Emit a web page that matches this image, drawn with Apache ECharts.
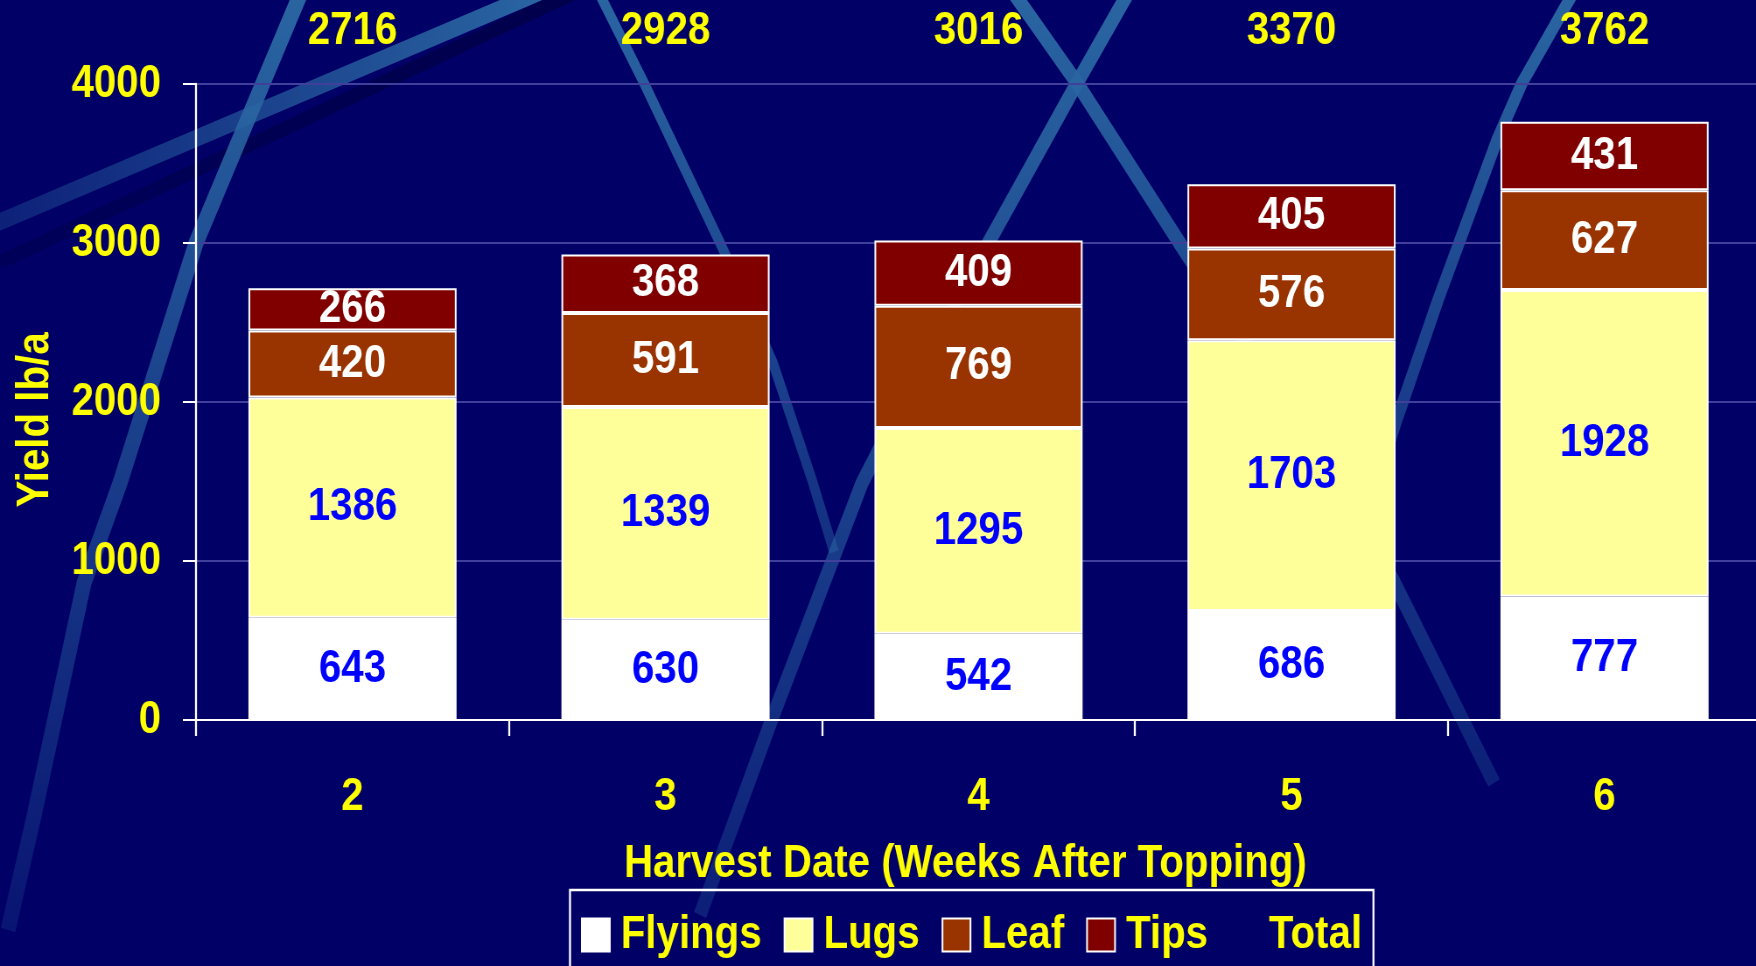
<!DOCTYPE html>
<html>
<head>
<meta charset="utf-8">
<script src="https://cdn.jsdelivr.net/npm/echarts@6/dist/echarts.min.js"></script>
<style>
html,body{margin:0;padding:0;background:#000066;overflow:hidden;width:1756px;height:966px;}
#chart{width:2007px;height:966px;transform:scaleX(0.874938);transform-origin:0 0;}
</style>
</head>
<body>
<div id="chart"></div>
<script>
const categories = ['2', '3', '4', '5', '6'];
const flyings = [643, 630, 542, 686, 777];
const lugs = [1386, 1339, 1295, 1703, 1928];
const leaf = [420, 591, 769, 576, 627];
const tips = [266, 368, 409, 405, 431];
const totals = [2716, 2928, 3016, 3370, 3762];
const yTicks = { min: 0, max: 4000, interval: 1000 };

// the reference uses a condensed bold face; the canvas is drawn wider and squeezed horizontally
const S = 1756 / 2007;
const FONT = "'Liberation Sans', Arial, sans-serif";
const YEL = '#ffff00';
const STREAK = '#2a66a2';

const chart = echarts.init(document.getElementById('chart'));

function streak(points, width, c1, c2, horizontal) {
  return {
    type: 'polyline', z: -10, silent: true,
    shape: { points: points.map(p => [p[0] / S, p[1]]) },
    style: {
      fill: null, lineWidth: width, lineCap: 'butt', lineJoin: 'round',
      stroke: new echarts.graphic.LinearGradient(0, 0, horizontal ? 1 : 0, horizontal ? 0 : 1,
        [{ offset: 0, color: c1 }, { offset: 1, color: c2 }])
    }
  };
}

function seg(name, data, color, labelColor) {
  return {
    name: name, type: 'bar', stack: 'yield', data: data, barWidth: '66.5%',
    itemStyle: { color: color, borderColor: '#ffffff', borderWidth: 2 },
    label: {
      show: true, position: 'inside', color: labelColor,
      fontFamily: FONT, fontWeight: 'bold', fontSize: 46
    },
    emphasis: { disabled: true }
  };
}

const option = {
  backgroundColor: '#000066',
  animation: false,
  graphic: [
    streak([[-10, 226], [540, -8]], 17, 'rgba(42,102,162,0.3)', STREAK, true),
    streak([[0, 262], [580, -10]], 14, 'rgba(0,0,72,0.4)', 'rgba(0,0,72,0.9)', true),
    streak([[300, -5], [263, 83], [196, 243], [120, 483], [84, 583], [34, 816], [8, 930]], 17, STREAK, 'rgba(42,102,162,0.2)', false),
    streak([[600, -5], [644, 83], [722, 247], [773, 363], [812, 480], [834, 552]], 11, STREAK, 'rgba(42,102,162,0.45)', false),
    streak([[1015, -5], [1077, 83], [1186, 253], [1300, 425], [1393, 580], [1494, 783]], 15, STREAK, 'rgba(42,102,162,0.3)', false),
    streak([[1127, -5], [1077, 83], [990, 240], [920, 370], [862, 483], [773, 716], [700, 915]], 15, STREAK, 'rgba(42,102,162,0.3)', false),
    streak([[1572, -5], [1522, 83], [1497, 140], [1438, 300], [1395, 425], [1375, 490]], 13, STREAK, 'rgba(42,102,162,0.5)', false),
    {
      type: 'text', silent: true, z: 10,
      x: 35 / S, y: 420, rotation: Math.PI / 2, scaleX: S, scaleY: 1 / S,
      style: {
        text: 'Yield lb/a', align: 'center', verticalAlign: 'middle', fill: YEL,
        fontFamily: FONT, fontWeight: 'bold', fontSize: 46
      }
    }
  ],
  grid: { left: 196 / S, top: 84, width: 1565 / S, height: 636, containLabel: false, outerBoundsMode: 'none' },
  legend: {
    left: 570 / S, top: 890,
    padding: [20, 13, 30, 12.5],
    itemGap: 22 / S, itemWidth: 28 / S, itemHeight: 33,
    borderColor: '#ffffff', borderWidth: 2.3,
    icon: 'rect',
    textStyle: { color: YEL, fontFamily: FONT, fontWeight: 'bold', fontSize: 46, lineHeight: 50, padding: [0, 0, 0, 7.5] },
    data: ['Flyings', 'Lugs', 'Leaf', 'Tips', { name: 'Total', itemStyle: { color: 'transparent', borderWidth: 0 } }],
    selectedMode: false
  },
  xAxis: {
    type: 'category', data: categories,
    name: 'Harvest Date (Weeks After Topping)', nameLocation: 'middle', nameGap: 121,
    nameTextStyle: { color: YEL, fontFamily: FONT, fontWeight: 'bold', fontSize: 46, padding: [0, 30, 0, 0] },
    axisLine: { lineStyle: { color: '#ffffff', width: 2 } },
    axisTick: { show: true, length: 16, lineStyle: { color: '#ffffff', width: 2.3 } },
    axisLabel: { color: YEL, fontFamily: FONT, fontWeight: 'bold', fontSize: 46, margin: 54 },
    splitLine: { show: false }
  },
  yAxis: {
    type: 'value', min: yTicks.min, max: yTicks.max, interval: yTicks.interval,
    axisLine: { show: true, lineStyle: { color: '#ffffff', width: 2.3 } },
    axisTick: { show: true, length: 15, lineStyle: { color: '#ffffff', width: 2 } },
    axisLabel: { color: YEL, fontFamily: FONT, fontWeight: 'bold', fontSize: 46, margin: 40, formatter: v => String(v) },
    splitLine: { show: true, lineStyle: { color: '#40409c', width: 2 } }
  },
  series: [
    seg('Flyings', flyings, '#ffffff', '#0000ff'),
    seg('Lugs', lugs, '#ffff99', '#0000ff'),
    seg('Leaf', leaf, '#993300', '#ffffff'),
    seg('Tips', tips, '#800000', '#ffffff'),
    {
      name: 'Total', type: 'custom', coordinateSystem: 'cartesian2d',
      itemStyle: { color: 'transparent' },
      data: totals.map((t, i) => [i, t]),
      clip: false,
      renderItem: function (params, api) {
        const x = api.coord([api.value(0), 0])[0];
        return {
          type: 'text',
          style: {
            text: String(api.value(1)), x: x, y: params.coordSys.y - 53,
            align: 'center', verticalAlign: 'middle', fill: YEL,
            fontFamily: FONT, fontWeight: 'bold', fontSize: 46
          }
        };
      }
    }
  ]
};
chart.setOption(option);
</script>
</body>
</html>
